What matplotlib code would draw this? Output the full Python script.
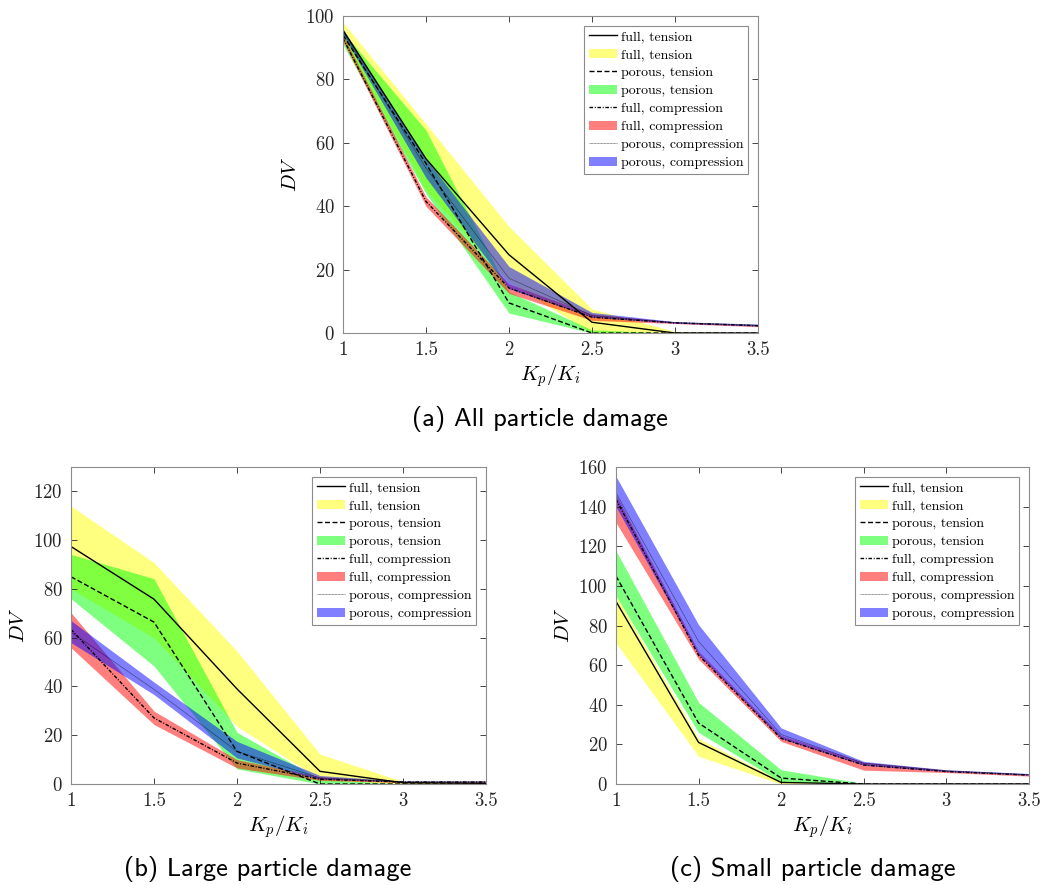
import matplotlib.pyplot as plt
import numpy as np

plt.rcParams['mathtext.fontset'] = 'cm'
plt.rcParams['font.family'] = ['cmr10', 'DejaVu Serif']
plt.rcParams['axes.formatter.use_mathtext'] = True

kp = [1, 1.5, 2, 2.5, 3, 3.5]

# (a) all particle damage
a_ft = [95.5, 55, 24.7, 3.4, 0, 0]
a_ft_hi = [98, 66, 33.6, 7.6, 0.5, 0]
a_ft_lo = [93, 45, 16, 0, 0, 0]
a_pt = [94, 53.5, 9.5, 0, 0, 0]
a_pt_hi = [95, 64, 13, 1, 0, 0]
a_pt_lo = [91, 44, 6.3, 0, 0, 0]
a_fc = [93, 41.5, 14.2, 5, 3.2, 2.3]
a_fc_hi = [94, 43, 15.5, 6, 3.5, 2.6]
a_fc_lo = [92, 40, 12.5, 4, 3, 2]
a_pc = [95, 52, 17.3, 5.5, 3.3, 2.5]
a_pc_hi = [96, 55, 21, 6.5, 3.6, 2.8]
a_pc_lo = [94, 49, 14, 5, 3.1, 2.2]

# (b) large particle damage
b_ft = [97.4, 75.8, 39, 5.2, 0.5, 0.3]
b_ft_hi = [114, 90.8, 54.5, 12.3, 1, 0.5]
b_ft_lo = [80, 60, 23.7, 1.8, 0, 0]
b_pt = [85, 66.4, 13.4, 0, 0, 0]
b_pt_hi = [94.2, 84.2, 21.2, 2, 0, 0]
b_pt_lo = [76, 48.4, 6.2, 0, 0, 0]
b_fc = [63.4, 27.1, 8.6, 2, 0.8, 0.8]
b_fc_hi = [70.3, 29.9, 10, 3, 1, 1]
b_fc_lo = [55.9, 24.4, 6.6, 1.5, 0.6, 0.6]
b_pc = [62.3, 38.8, 13.4, 2.5, 1, 1]
b_pc_hi = [67, 41.8, 17.5, 3.5, 1.2, 1.2]
b_pc_lo = [58, 36.7, 10.7, 2, 0.8, 0.8]

# (c) small particle damage
c_ft = [92.2, 21, 0.8, 0, 0, 0]
c_ft_hi = [95, 23, 1.5, 0, 0, 0]
c_ft_lo = [71.2, 14, 0, 0, 0, 0]
c_pt = [105, 30.8, 3, 0, 0, 0]
c_pt_hi = [117.8, 41.2, 7.2, 0.3, 0, 0]
c_pt_lo = [95, 26, 1, 0, 0, 0]
c_fc = [143.8, 65, 23, 9.6, 6.3, 4.5]
c_fc_hi = [146, 67, 24.5, 11, 7, 5]
c_fc_lo = [132, 63, 21.5, 7, 5.8, 4]
c_pc = [147, 72, 25, 10.5, 6.7, 4.8]
c_pc_hi = [155.3, 80.4, 28.3, 11.4, 7.2, 5.3]
c_pc_lo = [140, 65.3, 23, 9.5, 6.3, 4.5]

labels = ['full, tension', 'porous, tension', 'full, compression', 'porous, compression']
styles = ['-', (0, (3.6, 1.8)), (0, (2.6, 1.2, 0.7, 1.2)), (0, (0.5, 0.6))]
widths = [1.0, 1.0, 1.0, 0.5]
fills = ['#ffff00', '#00ff00', '#ff0000', '#0000ff']
xticks = [1, 1.5, 2, 2.5, 3, 3.5]
xticklabels = ['1', '1.5', '2', '2.5', '3', '3.5']

edge = '#262626'


def panel(ax, series, ymax, yticks):
    for (mid, lo, hi), lab, ls, lw, fc in zip(series, labels, styles, widths, fills):
        ax.plot(kp, mid, color='k', ls=ls, lw=lw, label=lab)
        ax.fill_between(kp, lo, hi, color=fc, alpha=0.5, lw=0, label=lab)
    ax.set_xlim(1, 3.5)
    ax.set_ylim(0, ymax)
    ax.set_xticks(xticks)
    ax.set_xticklabels(xticklabels)
    ax.set_yticks(yticks)
    ax.tick_params(direction='in', top=True, right=True, length=4, width=0.6,
                   color=edge, labelsize=13.5, labelcolor='#262626', pad=6)
    for s in ax.spines.values():
        s.set_color('#8c8c8c')
        s.set_linewidth(0.8)
    ax.set_xlabel(r'$K_p/K_i$', fontsize=15, labelpad=2)
    ax.set_ylabel(r'$DV$', fontsize=15, labelpad=4)
    leg = ax.legend(loc='upper right', fontsize=10, labelspacing=0.38,
                    handlelength=2.0, handletextpad=0.3, borderpad=0.35,
                    fancybox=False, framealpha=1, borderaxespad=0.7)
    leg.get_frame().set_edgecolor('#8c8c8c')
    leg.get_frame().set_linewidth(0.8)


fig = plt.figure(figsize=(10.44, 8.85), dpi=100)
ax_a = fig.add_axes([0.3285, 0.6237, 0.3975, 0.3582])
ax_b = fig.add_axes([0.068, 0.1141, 0.3975, 0.3582])
ax_c = fig.add_axes([0.590, 0.1141, 0.3956, 0.3582])

panel(ax_a, [(a_ft, a_ft_lo, a_ft_hi), (a_pt, a_pt_lo, a_pt_hi),
             (a_fc, a_fc_lo, a_fc_hi), (a_pc, a_pc_lo, a_pc_hi)],
      100, np.arange(0, 101, 20))
panel(ax_b, [(b_ft, b_ft_lo, b_ft_hi), (b_pt, b_pt_lo, b_pt_hi),
             (b_fc, b_fc_lo, b_fc_hi), (b_pc, b_pc_lo, b_pc_hi)],
      130, np.arange(0, 121, 20))
panel(ax_c, [(c_ft, c_ft_lo, c_ft_hi), (c_pt, c_pt_lo, c_pt_hi),
             (c_fc, c_fc_lo, c_fc_hi), (c_pc, c_pc_lo, c_pc_hi)],
      160, np.arange(0, 161, 20))

cap = dict(family='cmss10', fontsize=19, ha='center', va='center')
fig.text(540 / 1044, 1 - 419 / 885, '(a) All particle damage', **cap)
fig.text(268 / 1044, 1 - 869 / 885, '(b) Large particle damage', **cap)
fig.text(813 / 1044, 1 - 869 / 885, '(c) Small particle damage', **cap)

fig.savefig('out.png', dpi=100)
